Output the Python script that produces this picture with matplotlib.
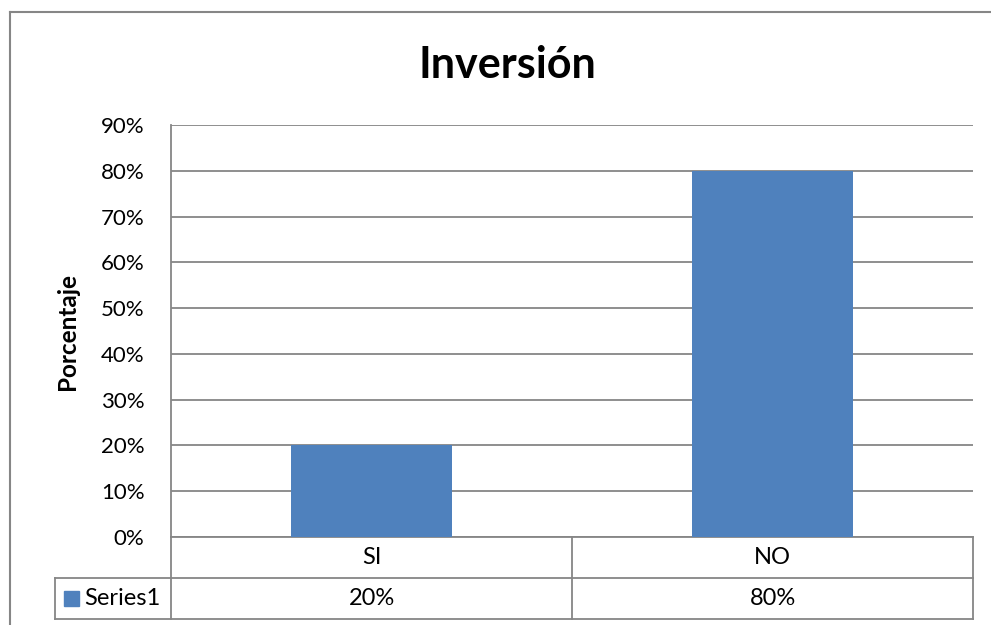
import matplotlib.pyplot as plt
from matplotlib.patches import Rectangle
from matplotlib.lines import Line2D

plt.rcParams['font.family'] = ['Lato', 'DejaVu Sans']

categories = ['SI', 'NO']
values = [0.20, 0.80]
series_name = 'Series1'
title = 'Inversión'
ylabel = 'Porcentaje'
yticks = [0, 0.1, 0.2, 0.3, 0.4, 0.5, 0.6, 0.7, 0.8, 0.9]

bar_color = '#4F81BD'
line_color = '#868686'

W, H = 991, 625
fig = plt.figure(figsize=(W / 100, H / 100), dpi=100)

# plot area in pixels: x 171..973, y 125..537
ax = fig.add_axes([171 / W, (H - 537) / H, (973 - 171) / W, (537 - 125) / H])

x = list(range(len(categories)))
ax.bar(x, values, width=0.4, color=bar_color, zorder=3)
ax.set_xlim(-0.5, len(categories) - 0.5)
ax.set_ylim(0, 0.9)
ax.set_yticks(yticks)
ax.set_yticklabels([f'{int(round(v * 100))}%' for v in yticks], fontsize=16)
ax.tick_params(axis='y', length=0, pad=19)
ax.set_xticks([])
ax.grid(axis='y', color=line_color, lw=1.3, zorder=0)
for s in ['top', 'right', 'bottom']:
    ax.spines[s].set_visible(False)
ax.spines['left'].set_color(line_color)
ax.spines['left'].set_linewidth(1.3)

ax.set_ylabel(ylabel, fontsize=17.5, fontweight='bold', labelpad=16)
fig.text(507 / W, 1 - 65 / H, title, ha='center', va='center',
         fontsize=31, fontweight='bold')

# data table below the plot
tr = ax.transAxes
row_h = 41 / 412
left_x = (55 - 171) / 802
kw = dict(transform=tr, color=line_color, lw=1.3, clip_on=False)
for yy in [0, -row_h, -2 * row_h]:
    x0 = left_x if yy != 0 else 0
    ax.add_line(Line2D([x0, 1], [yy, yy], **kw))
ax.add_line(Line2D([0, 0], [0, -2 * row_h], **kw))
ax.add_line(Line2D([1, 1], [0, -2 * row_h], **kw))
ax.add_line(Line2D([left_x, left_x], [-row_h, -2 * row_h], **kw))
n = len(categories)
for i in range(1, n):
    ax.add_line(Line2D([i / n, i / n], [0, -2 * row_h], **kw))

for i, (c, v) in enumerate(zip(categories, values)):
    cx = (i + 0.5) / n
    ax.text(cx, -0.5 * row_h, c, transform=tr, ha='center', va='center', fontsize=17)
    ax.text(cx, -1.5 * row_h, f'{int(round(v * 100))}%', transform=tr,
            ha='center', va='center', fontsize=17)

ax.add_patch(Rectangle((left_x + 9 / 802, -1.5 * row_h - 7.5 / 412), 15 / 802, 15 / 412,
                       transform=tr, color=bar_color, clip_on=False))
ax.text(left_x + 29 / 802, -1.5 * row_h, series_name, transform=tr,
        ha='left', va='center', fontsize=17)

# outer chart border
fig.add_artist(Line2D([10 / W, 10 / W], [0, 1 - 12 / H], transform=fig.transFigure,
                      color=line_color, lw=1.5))
fig.add_artist(Line2D([10 / W, 1], [1 - 12 / H, 1 - 12 / H], transform=fig.transFigure,
                      color=line_color, lw=1.5))

fig.savefig('out.png', dpi=100)
